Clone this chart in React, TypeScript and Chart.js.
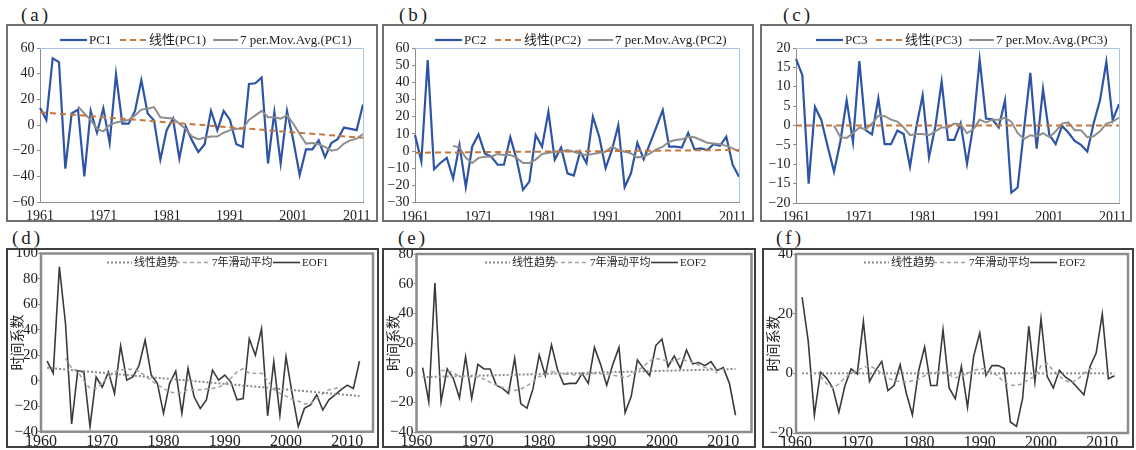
import React, { useEffect, useRef } from 'react';
import { Chart, registerables } from 'chart.js';

Chart.register(...registerables);

// ---------- data ----------
const YEARS = [
  1961, 1962, 1963, 1964, 1965, 1966, 1967, 1968, 1969, 1970,
  1971, 1972, 1973, 1974, 1975, 1976, 1977, 1978, 1979, 1980,
  1981, 1982, 1983, 1984, 1985, 1986, 1987, 1988, 1989, 1990,
  1991, 1992, 1993, 1994, 1995, 1996, 1997, 1998, 1999, 2000,
  2001, 2002, 2003, 2004, 2005, 2006, 2007, 2008, 2009, 2010,
  2011, 2012,
];

const X_TICKS_TOP = [1961, 1971, 1981, 1991, 2001, 2011];
const X_TICKS_BOTTOM = [1960, 1970, 1980, 1990, 2000, 2010];

const Y_TICKS_A = [-60, -40, -20, 0, 20, 40, 60];
const Y_TICKS_B = [-30, -20, -10, 0, 10, 20, 30, 40, 50, 60];
const Y_TICKS_C = [-20, -15, -10, -5, 0, 5, 10, 15, 20];
const Y_TICKS_D = [-40, -20, 0, 20, 40, 60, 80, 100];
const Y_TICKS_E = [-40, -20, 0, 20, 40, 60, 80];
const Y_TICKS_F = [-20, 0, 20, 40];

const PC1 = [
  13.5, 4, 52, 49, -34, 9, 12, -40, 11, -6,
  13, -14, 39.5, 1, 1, 11, 35, 9, 3.6, -27,
  -4, 5, -26, -1, -12, -21, -15, 11, -4, 11,
  4, -15, -17, 32, 32.5, 37, -30, 10, -30, 11,
  -12, -39, -19, -19, -12, -25, -14, -11, -2, -3,
  -4, 16,
];
const PC1_MA = [
  null, null, null, null, null, null, 14.5, 9, 4, -3,
  -5, 0, 2, 3, 4, 7.5, 12, 12.7, 14, 6,
  5.5, 5, 1, -3, -9, -11, -10, -9, -9, -6,
  -4, -3, -3, 4, 7.5, 11, 6, 6, 5, 7.5,
  1, -7, -14.5, -14, -15, -17, -20, -19, -14.5, -12,
  -10.6, -7,
];
const PC1_TREND = [10, -10];

const PC2 = [
  9.3, -6, 53, -10.6, -7, -4, -16, 3.5, -21, 2.5,
  9.7, -1.4, -3.3, -8, -8, 8, -5, -22.6, -17.8, 9.3,
  2.5, 22.8, -5, 2, -13, -14.3, -0.4, -7, 20, 8.3,
  -10, 0.6, 15, -21, -13, 4.8, -4.8, 4.4, 14, 23.8,
  2.5, 2.5, 2, 10.6, 1, 1.5, 0.6, 4, 3, 8.3,
  -8, -15,
];
const PC2_MA = [
  null, null, null, null, null, null, 3, 2, -4, -7,
  -4, -3.3, -3.3, -1.7, -2.3, -2.3, -4, -7, -7, -5,
  -1.7, -1, -0.4, -0.4, 0.6, -0.4, -1.7, -2.3, -1.7, -1,
  -0.4, 2.5, 0.6, -0.4, -1.4, -3.7, -3.3, -1.4, 1, 2.5,
  5.4, 6.4, 6.8, 8.3, 8, 6.4, 4.8, 4.4, 4, 3,
  1.5, -0.4,
];
const PC2_TREND = [-1, 0.6];

const PC3 = [
  17.2, 13, -15, 4.8, 1.4, -5.4, -11.9, -4.2, 6.5, -4.3,
  16.6, -1.2, -2.3, 7, -4.8, -4.8, -1.3, -2.2, -10.6, -0.3,
  7.8, -8.2, -0.3, 11.3, -3.7, -3.7, 0.6, -9.9, 0.1, 17,
  1.8, 1.6, -0.5, 6.5, -17.3, -16, -1, 13.6, -6, 9.4,
  -2.4, -4.8, -0.1, -1.8, -4, -5, -6.7, 0.6, 6.5, 16.4,
  1.4, 5.5,
];
const PC3_MA = [
  null, null, null, null, null, null, 0, -3, -3.2, -2,
  -0.5, -1, 0.5, 2.5, 2.4, 1.5, 1, -0.5, -2.5, -2.2,
  -2.2, -2.5, -1.5, -0.5, -0.5, 0.5, 0.3, -2, -1, 1.5,
  0.8, 1.5, 1.5, 2, 1, -2, -3.5, -2.5, -2.8, -2,
  -3, -1.5, 0.5, 0.8, -1.2, -1.2, -3, -2.8, -1.5, 0.5,
  1, 2,
];
const PC3_TREND = [0, 0];

const EOF1 = [
  15.5, 6, 89.5, 45, -34, 8, 7, -36, 3, -5,
  7, -10, 27.5, 0.5, 3, 12, 32, 4.5, -2, -25.6,
  -2, 7.6, -25.6, 9.7, -12.6, -21.7, -15, 8.4, 0.5, 4.5,
  -1, -15, -14, 33, 20, 41, -27.5, 15, -27, 19,
  -10, -36, -21.7, -19, -11, -23, -15, -11, -7, -3.4,
  -6, 15.5,
];
const EOF1_MA = [
  null, null, null, 17.5, 10, 7, 0, -6, -6, -2,
  3, 7, 8.4, 9, 9, 7.5, 4, 0, -3, -6,
  -8.6, -10, -9, -7, -7, -7, -6.5, -6, -5, -3,
  2, 7, 9.5, 6, 6, 6, 0, -7, -10, -12,
  -14.5, -16, -18, -18, -14, -10, -7, -6, -5, null,
  null, null,
];
const EOF1_TREND = [10.2, -12];

const EOF2 = [
  3.4, -19.6, 60.5, -19.6, 2.5, -3.8, -17, 10.8, -17.4, 5.6,
  2.5, 2.5, -8.4, -10.6, -14, 9.7, -20.8, -24, -10.6, 12,
  -2, 18.7, 1.8, -7.9, -7.2, -7.2, -0.5, -7.2, 17, 5.6,
  -8.4, 5.6, 17, -27, -16, 8.6, 2.9, -2, 18.3, 22.6,
  4, 11.3, 2.9, 15.3, 5.9, 6.8, 4.7, 7.4, 1.4, 3.4,
  -7.2, -28.7,
];
const EOF2_MA = [
  null, null, null, 1.4, 1.4, 0, -2.7, -2.7, -2.7, -3,
  -4.3, -6.5, -8.4, -10, -11.5, -12, -11, -9, -6, -2.7,
  -1.1, 0.7, 0, -0.8, -1.2, -1.6, -1.3, -1.1, -0.5, -0.8,
  -1, -1.6, -2.5, -3.4, -1.5, 1.5, 4, 8, 9.7, 8.6,
  8.2, 7.9, 9.7, 8, 7, 5.2, 3.5, 2.9, -0.5, null,
  null, null,
];
const EOF2_TREND = [-3, 2.5];

const EOF3 = [
  25.5, 10.7, -14, 0.4, -1.6, -4.9, -13, -4.1, 1.5, -0.2,
  17.4, -2.7, 1, 4, -5.8, -4.1, 2.9, -6.6, -13.9, 0.7,
  8.8, -4.1, -4.1, 14.6, -4.9, -8.5, 2.3, -11.4, 5.7, 13.5,
  -0.7, 2.6, 2.6, 1.6, -16.3, -17.8, -8.3, 15.8, -2.9, 18.3,
  -1, -4.9, 1, -1.3, -2.7, -4.9, -7.2, 2.3, 6.8, 19.9,
  -1.8, -0.8,
];
const EOF3_MA = [
  null, null, null, -1, -3.5, -5, -3.5, -1.5, 0, 1,
  2, 2.5, 1.5, 0, -1.5, -2.5, -2.8, -3, -2.5, -2,
  -0.8, 0, 0.4, 0.5, -0.5, -1.5, -1, 0, 1, 1.5,
  1.5, 0.5, -1, -3, -4, -4, -3.5, -2, -1, 2.5,
  3.3, 1, -1, -2.5, -3, -2, 0, 1.5, 1.5, null,
  null, null,
];
const EOF3_TREND = [0, 0];

// ---------- layout / style ----------
type Row = 'top' | 'bottom';
type PanelDef = {
  id: string;
  tag: string;
  tagX: number;
  tagY: number;
  row: Row;
  box: { x: number; y: number; w: number; h: number };
  plot: { l: number; t: number; r: number; b: number };
  xMax?: number;
  series: number[];
  ma: (number | null)[];
  trend: number[];
  names: string[];
  yTicks: number[];
  legendX: number;
};

const PANELS: PanelDef[] = [
  {
    id: 'a', tag: '(a)', tagX: 21, tagY: 15, row: 'top',
    box: { x: 6, y: 24, w: 372, h: 198 }, plot: { l: 40, t: 48, r: 363, b: 202 },
    series: PC1, ma: PC1_MA, trend: PC1_TREND,
    names: ['PC1', '线性(PC1)', '7 per.Mov.Avg.(PC1)'], yTicks: Y_TICKS_A, legendX: 60,
  },
  {
    id: 'b', tag: '(b)', tagX: 399, tagY: 15, row: 'top',
    box: { x: 382, y: 24, w: 372, h: 198 }, plot: { l: 415, t: 48, r: 739, b: 202.5 },
    series: PC2, ma: PC2_MA, trend: PC2_TREND,
    names: ['PC2', '线性(PC2)', '7 per.Mov.Avg.(PC2)'], yTicks: Y_TICKS_B, legendX: 435,
  },
  {
    id: 'c', tag: '(c)', tagX: 783, tagY: 15, row: 'top',
    box: { x: 760, y: 24, w: 372, h: 198 }, plot: { l: 796, t: 48, r: 1119, b: 203 },
    series: PC3, ma: PC3_MA, trend: PC3_TREND,
    names: ['PC3', '线性(PC3)', '7 per.Mov.Avg.(PC3)'], yTicks: Y_TICKS_C, legendX: 816,
  },
  {
    id: 'd', tag: '(d)', tagX: 12, tagY: 238, row: 'bottom',
    box: { x: 6, y: 248, w: 373, h: 200 }, plot: { l: 41, t: 253.5, r: 373, b: 431.7 }, xMax: 2014.2,
    series: EOF1, ma: EOF1_MA, trend: EOF1_TREND,
    names: ['EOF1', '线性趋势', '7年滑动平均'], yTicks: Y_TICKS_D, legendX: 107,
  },
  {
    id: 'e', tag: '(e)', tagX: 398, tagY: 238, row: 'bottom',
    box: { x: 382, y: 248, w: 374, h: 200 }, plot: { l: 416.5, t: 254, r: 751.5, b: 432 }, xMax: 2014.6,
    series: EOF2, ma: EOF2_MA, trend: EOF2_TREND,
    names: ['EOF2', '线性趋势', '7年滑动平均'], yTicks: Y_TICKS_E, legendX: 485,
  },
  {
    id: 'f', tag: '(f)', tagX: 776, tagY: 238, row: 'bottom',
    box: { x: 762, y: 248, w: 372, h: 200 }, plot: { l: 796, t: 254, r: 1128, b: 433 }, xMax: 2014.2,
    series: EOF3, ma: EOF3_MA, trend: EOF3_TREND,
    names: ['EOF2', '线性趋势', '7年滑动平均'], yTicks: Y_TICKS_F, legendX: 864,
  },
];

const SERIF = '"Liberation Serif", "Times New Roman", serif';
const CJK = '"Noto Sans CJK SC", sans-serif';
const TEXT = '#222222';

// legend item layout (relative to legend start): [ds index, lineStart, lineEnd, textStart]
const TOP_LEGEND: number[][] = [[2, 0, 27, 29], [0, 60, 87, 89], [1, 153, 178, 180]];
const BOTTOM_LEGEND: number[][] = [[0, 0, 25, 27], [1, 69, 102, 105], [2, 166, 193, 195]];

function fmtNum(v: number | string) {
  return String(v).replace('-', '\u2212');
}

const decoPlugin = {
  id: 'deco',
  beforeDraw(chart: any) {
    const { ctx, width, height } = chart;
    ctx.save();
    ctx.fillStyle = '#ffffff';
    ctx.fillRect(0, 0, width, height);
    ctx.restore();
  },
  afterDraw(chart: any, _args: any, o: any) {
    const { ctx, width, height, chartArea: a } = chart;
    ctx.save();
    ctx.setLineDash([]);
    if (o.row === 'top') {
      ctx.strokeStyle = '#a7c6e4';
      ctx.lineWidth = 1;
      ctx.beginPath();
      ctx.moveTo(a.left, Math.round(a.top) + 0.5);
      ctx.lineTo(Math.round(a.right) + 0.5, Math.round(a.top) + 0.5);
      ctx.lineTo(Math.round(a.right) + 0.5, a.bottom);
      ctx.stroke();
    } else {
      ctx.strokeStyle = '#8c8c8c';
      ctx.lineWidth = 2.5;
      ctx.strokeRect(a.left, a.top, a.right - a.left, a.bottom - a.top);
    }
    // outer box
    ctx.strokeStyle = o.boxColor;
    ctx.lineWidth = 2;
    ctx.strokeRect(1, 1, width - 2, height - 2);

    // legend
    const items: number[][] = o.row === 'top' ? TOP_LEGEND : BOTTOM_LEGEND;
    ctx.textBaseline = 'middle';
    ctx.textAlign = 'left';
    for (const it of items) {
      const ds = chart.data.datasets[it[0]];
      ctx.strokeStyle = ds.borderColor;
      ctx.lineWidth = ds.borderWidth;
      ctx.setLineDash(ds.borderDash || []);
      ctx.beginPath();
      ctx.moveTo(o.lx + it[1], o.ly);
      ctx.lineTo(o.lx + it[2], o.ly);
      ctx.stroke();
      ctx.setLineDash([]);
      ctx.font = o.font;
      ctx.fillStyle = TEXT;
      ctx.fillText(ds.label, o.lx + it[3], o.ly + 0.5);
    }
    ctx.restore();
  },
};

function buildConfig(p: PanelDef): any {
  const top = p.row === 'top';
  const relL = p.plot.l - p.box.x;
  const relT = p.plot.t - p.box.y;
  const relR = p.box.x + p.box.w - p.plot.r;
  const relB = p.box.y + p.box.h - p.plot.b;
  const padL = 2;
  const padB = 1;
  const yTicks = p.yTicks;
  const first = String(YEARS[0]);
  const last = String(YEARS[YEARS.length - 1]);

  const common = { pointRadius: 0, pointHoverRadius: 0, tension: 0, fill: false, spanGaps: false };

  let datasets: any[];
  if (top) {
    datasets = [
      {
        ...common, label: p.names[1],
        data: [{ x: first, y: p.trend[0] }, { x: last, y: p.trend[1] }],
        borderColor: '#c4773f', borderWidth: 2, borderDash: [6, 4],
      },
      { ...common, label: p.names[2], data: p.ma, borderColor: '#8e8e8e', borderWidth: 2 },
      { ...common, label: p.names[0], data: p.series, borderColor: '#2e55a5', borderWidth: 2.2 },
    ];
  } else {
    datasets = [
      {
        ...common, label: p.names[1],
        data: [{ x: YEARS[0], y: p.trend[0] }, { x: YEARS[YEARS.length - 1], y: p.trend[1] }],
        borderColor: '#8a8a8a', borderWidth: 2, borderDash: [2, 2],
      },
      {
        ...common, label: p.names[2],
        data: YEARS.map((yr, i) => ({ x: yr, y: p.ma[i] })),
        borderColor: '#a2a2a2', borderWidth: 1.5, borderDash: [4, 3],
      },
      {
        ...common, label: p.names[0],
        data: YEARS.map((yr, i) => ({ x: yr, y: p.series[i] })),
        borderColor: '#3a3a3a', borderWidth: 1.6,
      },
    ];
  }

  const yScale: any = {
    type: 'linear',
    min: yTicks[0],
    max: yTicks[yTicks.length - 1],
    grid: {
      display: true, drawOnChartArea: false, drawTicks: true, tickLength: 3,
      color: '#8c8c8c',
    },
    border: { display: top, color: '#8c8c8c', width: 1 },
    ticks: {
      autoSkip: false,
      padding: top ? 2.5 : 0,
      color: TEXT,
      font: { family: SERIF, size: top ? 14 : 15 },
      callback: (v: number) => fmtNum(v),
    },
    afterBuildTicks: (s: any) => { s.ticks = yTicks.map((v) => ({ value: v })); },
    afterFit: (s: any) => { s.width = relL - padL; s.paddingTop = 0; s.paddingBottom = 0; },
  };
  if (!top) {
    yScale.title = {
      display: true, text: '时间系数', color: TEXT, padding: 0,
      font: { family: CJK, size: 14, weight: 'normal' },
    };
  }

  const xScale: any = top
    ? {
        type: 'category',
        offset: false,
        grid: { display: false, drawTicks: false },
        border: { display: true, color: '#8c8c8c', width: 1 },
        ticks: {
          autoSkip: false, maxRotation: 0, minRotation: 0, padding: 6,
          color: TEXT, font: { family: SERIF, size: 14 },
        },
        afterBuildTicks: (s: any) => {
          s.ticks = X_TICKS_TOP.map((yr) => ({ value: YEARS.indexOf(yr) }));
        },
        afterFit: (s: any) => { s.height = relB - padB; s.paddingLeft = 0; s.paddingRight = 0; },
      }
    : {
        type: 'linear',
        min: X_TICKS_BOTTOM[0],
        max: p.xMax,
        grid: { display: false, drawTicks: false },
        border: { display: false },
        ticks: {
          autoSkip: false, maxRotation: 0, minRotation: 0, padding: 0, includeBounds: false,
          color: TEXT, font: { family: SERIF, size: 16 },
          callback: (v: number) => String(v),
        },
        afterBuildTicks: (s: any) => { s.ticks = X_TICKS_BOTTOM.map((v) => ({ value: v })); },
        afterFit: (s: any) => { s.height = relB - padB; s.paddingLeft = 0; s.paddingRight = 0; },
      };

  return {
    type: 'line',
    data: { labels: YEARS.map(String), datasets },
    plugins: [decoPlugin],
    options: {
      responsive: false,
      maintainAspectRatio: false,
      animation: false,
      events: [],
      layout: { autoPadding: false, padding: { left: padL, top: relT, right: relR, bottom: padB } },
      scales: { x: xScale, y: yScale },
      plugins: {
        legend: { display: false },
        tooltip: { enabled: false },
        deco: {
          row: p.row,
          boxColor: top ? '#707070' : '#3f3f3f',
          lx: p.legendX - p.box.x,
          ly: top ? 40 - p.box.y : 262.5 - p.box.y,
          font: top ? `13px ${SERIF}, "Noto Sans CJK SC"` : `11px "Liberation Serif", "Noto Sans CJK SC", sans-serif`,
        },
      },
    },
  };
}

function PanelChart({ p }: { p: PanelDef }) {
  const ref = useRef<HTMLCanvasElement | null>(null);
  useEffect(() => {
    const canvas = ref.current;
    if (!canvas) return;
    const chart = new Chart(canvas, buildConfig(p));
    return () => chart.destroy();
  }, [p]);
  return (
    <canvas
      ref={ref}
      width={p.box.w}
      height={p.box.h}
      style={{
        position: 'absolute', left: p.box.x, top: p.box.y,
        width: p.box.w, height: p.box.h, display: 'block',
      }}
    />
  );
}

export default function App() {
  return (
    <div
      style={{
        position: 'absolute', left: 0, top: 0, width: 1136, height: 450,
        background: '#ffffff', overflow: 'hidden',
      }}
    >
      {PANELS.map((p) => (
        <React.Fragment key={p.id}>
          <div
            style={{
              position: 'absolute', left: p.tagX, top: p.tagY - 11, height: 22,
              lineHeight: '22px', fontFamily: SERIF, fontSize: 19, letterSpacing: '3px',
              color: TEXT, whiteSpace: 'nowrap',
            }}
          >
            {p.tag}
          </div>
          <PanelChart p={p} />
        </React.Fragment>
      ))}
    </div>
  );
}
